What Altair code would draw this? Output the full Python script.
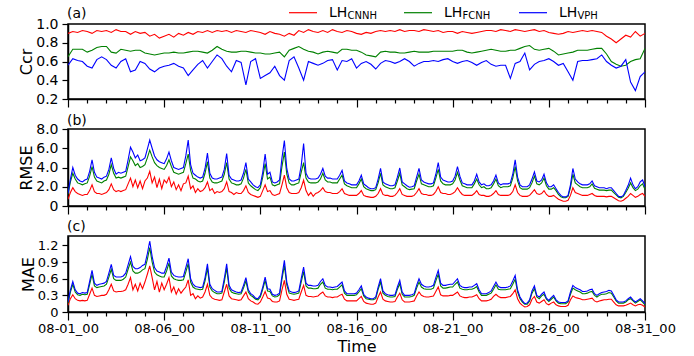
import altair as alt
import pandas as pd

FONT = "DejaVu Sans"
SERIES = ["CNNH", "FCNH", "VPH"]
COLORS = ["#ff0000", "#008000", "#0000ff"]
DAY_TICKS = list(range(31))

# ---- (a) Ccr, 6-hourly samples (4 per day), 08-01_00 .. 08-31_00
ccr_cnnh = [
    0.90, 0.92, 0.91, 0.93, 0.92, 0.90, 0.93, 0.92, 0.93, 0.91, 0.94, 0.92,
    0.92, 0.89, 0.92, 0.90, 0.91, 0.87, 0.89, 0.85, 0.87, 0.89, 0.86, 0.90,
    0.88, 0.91, 0.89, 0.92, 0.91, 0.93, 0.91, 0.93, 0.92, 0.93, 0.91, 0.93,
    0.92, 0.91, 0.93, 0.92, 0.91, 0.89, 0.92, 0.90, 0.89, 0.87, 0.90, 0.88,
    0.93, 0.91, 0.94, 0.92, 0.91, 0.93, 0.91, 0.94, 0.92, 0.91, 0.93, 0.92,
    0.90, 0.89, 0.91, 0.90, 0.92, 0.93, 0.92, 0.93, 0.92, 0.94, 0.92, 0.93,
    0.93, 0.92, 0.94, 0.93, 0.92, 0.93, 0.91, 0.92, 0.92, 0.90, 0.92, 0.91,
    0.90, 0.91, 0.92, 0.93, 0.93, 0.92, 0.94, 0.93, 0.92, 0.94, 0.93, 0.92,
    0.93, 0.94, 0.92, 0.93, 0.91, 0.90, 0.89, 0.90, 0.92, 0.91, 0.92, 0.93,
    0.92, 0.93, 0.92, 0.91, 0.87, 0.84, 0.80, 0.84, 0.88, 0.86, 0.92, 0.87,
    0.90,
]
ccr_fcnh = [
    0.65, 0.73, 0.73, 0.73, 0.70, 0.72, 0.75, 0.76, 0.76, 0.70, 0.69, 0.73,
    0.72, 0.71, 0.72, 0.72, 0.69, 0.68, 0.67, 0.68, 0.69, 0.69, 0.70, 0.69,
    0.69, 0.70, 0.71, 0.71, 0.70, 0.69, 0.72, 0.76, 0.73, 0.71, 0.70, 0.70,
    0.71, 0.71, 0.70, 0.69, 0.69, 0.68, 0.68, 0.69, 0.70, 0.65, 0.72, 0.74,
    0.76, 0.73, 0.71, 0.70, 0.68, 0.70, 0.71, 0.70, 0.69, 0.73, 0.73, 0.72,
    0.72, 0.70, 0.67, 0.66, 0.65, 0.70, 0.71, 0.70, 0.70, 0.69, 0.69, 0.70,
    0.71, 0.70, 0.70, 0.70, 0.71, 0.71, 0.71, 0.71, 0.71, 0.72, 0.72, 0.70,
    0.69, 0.70, 0.71, 0.72, 0.73, 0.72, 0.71, 0.71, 0.72, 0.72, 0.74, 0.76,
    0.77, 0.73, 0.72, 0.73, 0.74, 0.71, 0.67, 0.68, 0.69, 0.70, 0.72, 0.72,
    0.72, 0.73, 0.74, 0.74, 0.68, 0.60, 0.57, 0.55, 0.56, 0.60, 0.62, 0.63,
    0.74,
]
ccr_vph = [
    0.56, 0.63, 0.61, 0.60, 0.55, 0.53, 0.62, 0.65, 0.62, 0.56, 0.53, 0.60,
    0.63, 0.49, 0.51, 0.60, 0.58, 0.52, 0.49, 0.53, 0.55, 0.56, 0.58, 0.55,
    0.53, 0.45, 0.51, 0.57, 0.61, 0.53, 0.60, 0.67, 0.63, 0.55, 0.49, 0.61,
    0.59, 0.35, 0.60, 0.63, 0.42, 0.45, 0.48, 0.55, 0.45, 0.40, 0.61, 0.65,
    0.53, 0.40, 0.60, 0.58, 0.56, 0.58, 0.61, 0.62, 0.51, 0.61, 0.60, 0.63,
    0.53, 0.58, 0.60, 0.57, 0.52, 0.58, 0.61, 0.60, 0.58, 0.60, 0.63, 0.60,
    0.55, 0.58, 0.60, 0.60, 0.61, 0.60, 0.62, 0.63, 0.60, 0.58, 0.60, 0.61,
    0.59, 0.56, 0.59, 0.61, 0.57, 0.55, 0.56, 0.56, 0.42, 0.58, 0.60, 0.69,
    0.51, 0.57, 0.60, 0.61, 0.63, 0.60, 0.56, 0.58, 0.49, 0.40, 0.60, 0.61,
    0.61, 0.62, 0.63, 0.67, 0.60, 0.56, 0.53, 0.55, 0.62, 0.38, 0.29, 0.44,
    0.49,
]

# ---- (b) RMSE, 3-hourly samples (8 per day)
rmse_cnnh = [
    0.7, 1.4, 1.9, 1.5, 1.3, 1.2, 1.1, 1.2,
    1.2, 1.6, 2.2, 1.5, 1.3, 1.3, 1.2, 1.3,
    1.4, 1.7, 2.3, 1.7, 1.5, 1.6, 1.5, 1.6,
    1.7, 2.3, 2.9, 2.0, 2.7, 1.9, 2.6, 1.8,
    2.6, 2.9, 3.6, 2.4, 3.0, 1.9, 2.8, 1.8,
    2.7, 2.4, 3.0, 2.0, 2.5, 1.7, 2.2, 1.6,
    2.3, 2.4, 3.1, 1.8, 2.1, 1.4, 1.8, 1.5,
    1.6, 1.9, 2.5, 1.6, 1.8, 1.3, 1.5, 1.4,
    1.5, 1.8, 2.5, 1.5, 1.4, 1.2, 1.4, 1.3,
    1.3, 1.6, 2.1, 1.4, 1.2, 1.1, 1.0, 0.9,
    1.0, 1.6, 2.2, 1.5, 1.6, 1.2, 1.1, 1.2,
    1.3, 2.2, 3.2, 1.9, 1.4, 1.3, 1.3, 1.3,
    1.4, 1.9, 2.7, 1.6, 1.1, 1.4, 1.0, 1.3,
    1.4, 1.6, 1.9, 1.5, 1.4, 1.4, 1.3, 1.3,
    1.3, 1.5, 1.8, 1.3, 1.2, 1.1, 1.1, 1.1,
    1.1, 1.3, 1.6, 1.1, 1.0, 0.95, 0.9, 0.9,
    1.0, 1.3, 1.8, 1.2, 1.1, 1.1, 1.0, 1.0,
    1.1, 1.4, 1.8, 1.2, 1.1, 1.0, 1.0, 1.0,
    1.1, 1.4, 1.8, 1.3, 1.2, 1.2, 1.1, 1.1,
    1.2, 1.5, 2.0, 1.4, 1.3, 1.3, 1.2, 1.2,
    1.3, 1.5, 1.9, 1.5, 1.2, 1.1, 1.1, 1.1,
    1.1, 1.3, 1.6, 1.2, 1.1, 1.1, 1.0, 1.0,
    1.1, 1.3, 1.6, 1.2, 1.1, 1.1, 1.1, 1.1,
    1.2, 1.5, 2.2, 1.4, 1.1, 1.0, 1.0, 1.0,
    1.1, 1.4, 1.7, 1.3, 1.2, 1.3, 1.6, 1.2,
    1.0, 1.0, 1.1, 0.9, 0.7, 0.6, 0.5, 0.5,
    0.6, 1.1, 1.9, 1.4, 1.3, 1.2, 1.1, 1.1,
    1.1, 1.2, 1.3, 1.1, 1.0, 1.0, 1.0, 1.0,
    0.95, 1.0, 1.0, 0.85, 0.7, 0.55, 0.5, 0.6,
    0.8, 1.0, 1.3, 1.1, 0.9, 1.0, 1.2, 1.3,
    1.0,
]
rmse_fcnh = [
    1.2, 2.5, 3.4, 2.8, 2.4, 2.3, 2.2, 2.3,
    2.4, 3.1, 4.1, 3.0, 2.6, 2.5, 2.4, 2.6,
    2.7, 3.3, 4.3, 3.4, 2.9, 3.0, 2.9, 3.0,
    3.1, 4.1, 5.1, 4.7, 4.2, 4.4, 4.0, 4.1,
    4.3, 5.0, 5.8, 5.1, 4.5, 4.2, 4.0, 3.9,
    3.8, 4.2, 4.8, 4.1, 3.5, 3.4, 3.3, 3.4,
    3.5, 4.4, 5.4, 3.7, 2.9, 2.8, 2.6, 2.5,
    2.6, 3.4, 4.6, 2.9, 2.5, 2.4, 2.4, 2.5,
    2.6, 3.3, 4.5, 2.8, 2.4, 2.3, 2.2, 2.2,
    2.3, 2.9, 3.8, 2.4, 2.1, 1.9, 1.7, 1.6,
    1.9, 3.0, 4.4, 2.8, 3.0, 2.2, 2.1, 2.2,
    2.3, 4.1, 5.6, 3.3, 2.4, 2.2, 2.2, 2.3,
    2.4, 3.5, 4.5, 2.9, 2.5, 2.4, 2.4, 2.4,
    2.5, 2.8, 3.4, 2.7, 2.5, 2.5, 2.4, 2.4,
    2.4, 2.8, 3.2, 2.3, 2.1, 2.0, 1.9, 1.9,
    1.9, 2.3, 2.8, 2.0, 1.8, 1.7, 1.6, 1.6,
    1.7, 2.4, 3.4, 2.2, 2.0, 1.9, 1.8, 1.8,
    1.9, 2.6, 3.4, 2.2, 2.0, 1.8, 1.7, 1.75,
    1.8, 2.6, 3.3, 2.3, 2.2, 2.1, 2.0, 2.0,
    2.1, 2.9, 3.8, 2.6, 2.3, 2.2, 2.2, 2.2,
    2.3, 2.7, 3.5, 2.7, 2.1, 2.0, 1.9, 1.9,
    1.9, 2.3, 2.8, 2.2, 1.9, 2.0, 1.8, 1.8,
    1.9, 2.3, 2.8, 2.1, 1.9, 2.0, 2.0, 2.0,
    2.1, 2.9, 4.1, 2.6, 1.9, 1.75, 1.75, 1.75,
    1.9, 2.4, 3.1, 2.3, 2.2, 2.4, 2.9, 2.1,
    1.75, 1.75, 1.9, 1.6, 1.2, 0.95, 0.85, 0.85,
    1.0, 1.9, 3.3, 2.4, 2.2, 2.0, 1.9, 1.9,
    1.9, 2.0, 2.3, 1.85, 1.75, 1.65, 1.65, 1.65,
    1.6, 1.65, 1.65, 1.4, 1.15, 0.9, 0.85, 1.0,
    1.4, 1.85, 2.4, 1.9, 1.6, 1.75, 2.1, 2.3,
    1.7,
]
rmse_vph = [
    1.3, 2.8, 4.0, 3.2, 2.8, 2.6, 2.5, 2.7,
    2.8, 3.6, 4.8, 3.5, 3.0, 2.9, 2.8, 3.0,
    3.1, 3.8, 5.0, 3.9, 3.3, 3.5, 3.4, 3.5,
    3.6, 4.8, 6.1, 5.6, 5.0, 5.3, 4.7, 4.8,
    5.0, 5.9, 6.85, 6.0, 5.2, 4.8, 4.6, 4.5,
    4.4, 4.9, 5.6, 4.7, 4.0, 3.9, 3.8, 3.9,
    4.0, 5.2, 6.85, 4.3, 3.4, 3.2, 3.0, 2.9,
    3.0, 3.9, 5.5, 3.4, 2.9, 2.8, 2.8, 2.9,
    3.0, 3.8, 5.45, 3.2, 2.8, 2.7, 2.6, 2.6,
    2.7, 3.4, 4.5, 2.8, 2.5, 2.2, 2.0, 1.9,
    2.2, 3.5, 5.4, 3.3, 3.5, 2.5, 2.4, 2.5,
    2.7, 5.0, 6.8, 3.9, 2.8, 2.6, 2.6, 2.7,
    2.8, 4.2, 6.5, 3.4, 2.9, 2.8, 2.8, 2.8,
    2.9, 3.3, 3.9, 3.1, 2.9, 2.9, 2.8, 2.8,
    2.8, 3.2, 3.7, 2.6, 2.4, 2.3, 2.2, 2.2,
    2.2, 2.6, 3.2, 2.3, 2.1, 1.9, 1.8, 1.8,
    1.9, 2.8, 3.9, 2.5, 2.3, 2.2, 2.1, 2.1,
    2.2, 3.0, 3.95, 2.5, 2.3, 2.1, 1.95, 2.0,
    2.1, 3.0, 3.9, 2.7, 2.5, 2.4, 2.3, 2.3,
    2.4, 3.3, 4.5, 3.0, 2.7, 2.6, 2.5, 2.5,
    2.6, 3.1, 4.1, 3.1, 2.4, 2.3, 2.2, 2.2,
    2.2, 2.6, 3.3, 2.5, 2.2, 2.3, 2.1, 2.1,
    2.2, 2.6, 3.2, 2.4, 2.2, 2.3, 2.3, 2.3,
    2.4, 3.3, 4.8, 3.0, 2.2, 2.0, 2.0, 2.0,
    2.2, 2.8, 3.55, 2.6, 2.5, 2.7, 3.3, 2.4,
    2.0, 2.0, 2.2, 1.8, 1.4, 1.1, 0.95, 0.95,
    1.1, 2.2, 3.9, 2.8, 2.5, 2.3, 2.2, 2.2,
    2.2, 2.3, 2.6, 2.1, 2.0, 1.9, 1.9, 1.9,
    1.8, 1.9, 1.9, 1.6, 1.3, 1.0, 0.95, 1.1,
    1.6, 2.15, 2.9, 2.2, 1.8, 2.0, 2.5, 2.7,
    2.0,
]

# ---- (c) MAE, 3-hourly samples (8 per day)
mae_cnnh = [
    0.12, 0.24, 0.31, 0.24, 0.21, 0.20, 0.21, 0.20,
    0.21, 0.32, 0.43, 0.30, 0.28, 0.29, 0.30, 0.30,
    0.32, 0.40, 0.50, 0.38, 0.36, 0.37, 0.37, 0.38,
    0.40, 0.50, 0.62, 0.40, 0.50, 0.38, 0.52, 0.42,
    0.54, 0.68, 0.83, 0.62, 0.40, 0.55, 0.36, 0.52,
    0.40, 0.50, 0.62, 0.36, 0.45, 0.32, 0.42, 0.34,
    0.40, 0.45, 0.58, 0.30, 0.33, 0.24, 0.29, 0.25,
    0.27, 0.36, 0.50, 0.30, 0.25, 0.23, 0.22, 0.21,
    0.22, 0.36, 0.50, 0.29, 0.24, 0.23, 0.22, 0.21,
    0.22, 0.29, 0.36, 0.24, 0.20, 0.18, 0.15, 0.14,
    0.18, 0.27, 0.37, 0.25, 0.24, 0.19, 0.18, 0.18,
    0.20, 0.40, 0.57, 0.32, 0.23, 0.22, 0.21, 0.22,
    0.23, 0.36, 0.48, 0.30, 0.28, 0.28, 0.27, 0.28,
    0.29, 0.33, 0.36, 0.29, 0.27, 0.27, 0.26, 0.27,
    0.27, 0.30, 0.32, 0.23, 0.20, 0.20, 0.20, 0.20,
    0.20, 0.24, 0.28, 0.19, 0.16, 0.15, 0.14, 0.14,
    0.16, 0.27, 0.36, 0.23, 0.20, 0.19, 0.18, 0.18,
    0.19, 0.27, 0.34, 0.22, 0.18, 0.18, 0.18, 0.19,
    0.20, 0.29, 0.36, 0.30, 0.28, 0.27, 0.27, 0.28,
    0.29, 0.37, 0.45, 0.31, 0.29, 0.29, 0.29, 0.30,
    0.30, 0.33, 0.36, 0.29, 0.27, 0.26, 0.26, 0.27,
    0.27, 0.29, 0.31, 0.24, 0.20, 0.20, 0.20, 0.21,
    0.23, 0.28, 0.32, 0.28, 0.26, 0.26, 0.26, 0.27,
    0.28, 0.33, 0.40, 0.24, 0.16, 0.12, 0.09, 0.10,
    0.13, 0.23, 0.28, 0.18, 0.16, 0.19, 0.22, 0.15,
    0.13, 0.16, 0.18, 0.13, 0.11, 0.10, 0.10, 0.10,
    0.12, 0.22, 0.29, 0.26, 0.25, 0.24, 0.22, 0.22,
    0.23, 0.24, 0.25, 0.20, 0.18, 0.20, 0.21, 0.22,
    0.22, 0.23, 0.23, 0.18, 0.13, 0.11, 0.11, 0.11,
    0.12, 0.14, 0.16, 0.13, 0.11, 0.13, 0.14, 0.12,
    0.09,
]
mae_fcnh = [
    0.16, 0.36, 0.50, 0.36, 0.31, 0.30, 0.32, 0.31,
    0.32, 0.50, 0.68, 0.47, 0.44, 0.45, 0.46, 0.47,
    0.50, 0.63, 0.77, 0.60, 0.57, 0.57, 0.57, 0.59,
    0.63, 0.77, 0.90, 0.74, 0.70, 0.70, 0.72, 0.76,
    0.78, 0.95, 1.16, 0.90, 0.72, 0.67, 0.65, 0.63,
    0.63, 0.74, 0.88, 0.65, 0.60, 0.58, 0.57, 0.57,
    0.58, 0.72, 0.87, 0.54, 0.45, 0.42, 0.41, 0.40,
    0.41, 0.56, 0.79, 0.45, 0.38, 0.35, 0.33, 0.33,
    0.34, 0.54, 0.79, 0.43, 0.36, 0.34, 0.33, 0.32,
    0.33, 0.43, 0.56, 0.36, 0.30, 0.27, 0.23, 0.22,
    0.27, 0.41, 0.57, 0.38, 0.37, 0.29, 0.27, 0.28,
    0.31, 0.59, 0.84, 0.49, 0.34, 0.33, 0.32, 0.33,
    0.34, 0.54, 0.73, 0.47, 0.43, 0.43, 0.42, 0.42,
    0.43, 0.50, 0.54, 0.43, 0.41, 0.41, 0.40, 0.41,
    0.41, 0.45, 0.49, 0.34, 0.30, 0.30, 0.30, 0.30,
    0.31, 0.36, 0.42, 0.29, 0.24, 0.23, 0.22, 0.22,
    0.24, 0.41, 0.54, 0.34, 0.30, 0.28, 0.27, 0.27,
    0.28, 0.41, 0.51, 0.32, 0.27, 0.27, 0.27, 0.28,
    0.30, 0.43, 0.54, 0.45, 0.42, 0.41, 0.41, 0.41,
    0.43, 0.56, 0.68, 0.47, 0.43, 0.43, 0.44, 0.45,
    0.45, 0.50, 0.54, 0.43, 0.41, 0.40, 0.40, 0.41,
    0.41, 0.43, 0.46, 0.36, 0.30, 0.30, 0.30, 0.32,
    0.34, 0.41, 0.49, 0.41, 0.40, 0.40, 0.40, 0.41,
    0.42, 0.50, 0.59, 0.36, 0.24, 0.18, 0.14, 0.14,
    0.20, 0.34, 0.42, 0.27, 0.24, 0.29, 0.32, 0.23,
    0.19, 0.23, 0.27, 0.20, 0.16, 0.15, 0.15, 0.15,
    0.18, 0.32, 0.43, 0.40, 0.38, 0.36, 0.33, 0.33,
    0.34, 0.36, 0.37, 0.30, 0.27, 0.30, 0.32, 0.32,
    0.33, 0.35, 0.34, 0.27, 0.20, 0.16, 0.16, 0.16,
    0.18, 0.22, 0.24, 0.20, 0.16, 0.19, 0.22, 0.18,
    0.13,
]
mae_vph = [
    0.18, 0.40, 0.55, 0.40, 0.34, 0.33, 0.35, 0.34,
    0.35, 0.55, 0.75, 0.52, 0.48, 0.50, 0.51, 0.52,
    0.55, 0.70, 0.86, 0.66, 0.63, 0.63, 0.63, 0.65,
    0.70, 0.85, 1.00, 0.82, 0.78, 0.78, 0.80, 0.84,
    0.86, 1.05, 1.28, 1.00, 0.80, 0.74, 0.72, 0.70,
    0.70, 0.82, 0.97, 0.72, 0.66, 0.64, 0.63, 0.63,
    0.64, 0.80, 0.96, 0.60, 0.50, 0.46, 0.45, 0.44,
    0.45, 0.62, 0.87, 0.50, 0.42, 0.39, 0.36, 0.36,
    0.37, 0.60, 0.87, 0.48, 0.40, 0.38, 0.36, 0.35,
    0.36, 0.48, 0.62, 0.40, 0.33, 0.30, 0.25, 0.24,
    0.30, 0.45, 0.63, 0.42, 0.41, 0.32, 0.30, 0.31,
    0.34, 0.65, 0.93, 0.54, 0.38, 0.36, 0.35, 0.36,
    0.38, 0.60, 0.81, 0.52, 0.48, 0.48, 0.47, 0.47,
    0.48, 0.55, 0.60, 0.48, 0.45, 0.45, 0.44, 0.45,
    0.46, 0.50, 0.54, 0.38, 0.33, 0.33, 0.33, 0.33,
    0.34, 0.40, 0.47, 0.32, 0.27, 0.25, 0.24, 0.24,
    0.27, 0.45, 0.60, 0.38, 0.33, 0.31, 0.30, 0.30,
    0.31, 0.45, 0.57, 0.36, 0.30, 0.30, 0.30, 0.31,
    0.33, 0.48, 0.60, 0.50, 0.47, 0.45, 0.45, 0.46,
    0.48, 0.62, 0.75, 0.52, 0.48, 0.48, 0.49, 0.50,
    0.50, 0.55, 0.60, 0.48, 0.45, 0.44, 0.44, 0.45,
    0.45, 0.48, 0.51, 0.40, 0.33, 0.33, 0.33, 0.35,
    0.38, 0.46, 0.54, 0.46, 0.44, 0.44, 0.44, 0.45,
    0.47, 0.56, 0.66, 0.40, 0.27, 0.20, 0.15, 0.16,
    0.22, 0.38, 0.47, 0.30, 0.27, 0.32, 0.36, 0.25,
    0.21, 0.26, 0.30, 0.22, 0.18, 0.17, 0.17, 0.17,
    0.20, 0.36, 0.48, 0.44, 0.42, 0.40, 0.37, 0.37,
    0.38, 0.40, 0.41, 0.33, 0.30, 0.33, 0.35, 0.36,
    0.37, 0.39, 0.38, 0.30, 0.22, 0.18, 0.18, 0.18,
    0.20, 0.24, 0.27, 0.22, 0.18, 0.21, 0.24, 0.20,
    0.15,
]


def long_table(per_day, series_values):
    rows = []
    for name, vals in zip(SERIES, series_values):
        for i, v in enumerate(vals):
            rows.append({"day": i / per_day, "value": v, "series": name})
    return pd.DataFrame(rows)


df_a = long_table(4, [ccr_cnnh, ccr_fcnh, ccr_vph])
df_b = long_table(8, [rmse_cnnh, rmse_fcnh, rmse_vph])
df_c = long_table(8, [mae_cnnh, mae_fcnh, mae_vph])

ONE = pd.DataFrame({"k": [0]})
TICK_SIZE = {"condition": {"test": "datum.value % 5 == 0", "value": 8}, "value": 4}
X_LABEL = ("datum.value % 5 == 0 ? '08-' + (datum.value + 1 < 10 ? '0' : '') + "
           "(datum.value + 1) + '_00' : ''")
Y_LABEL = "datum.value == 0 ? '0' : format(datum.value, '.1f')"


def panel(df, label, label_y, ytitle, ydomain, yvalues, ylab_size, height,
          bottom=False, legend=False):
    if bottom:
        xaxis = alt.Axis(values=DAY_TICKS, tickSize=TICK_SIZE, labelExpr=X_LABEL,
                         labelFontSize=13, labelPadding=2, labelFlush=False,
                         labelOverlap=False, title="Time", titleFontSize=16,
                         titleFontWeight="normal", titlePadding=3.5, grid=False)
    else:
        xaxis = alt.Axis(values=DAY_TICKS, tickSize=TICK_SIZE, labels=False,
                         title=None, grid=False)
    yaxis = alt.Axis(values=yvalues, labelExpr=Y_LABEL, tickSize=6, labelPadding=4,
                     labelFontSize=ylab_size, title=ytitle, titleFontSize=16,
                     titleFontWeight="normal", titlePadding=1, grid=False)
    lines = alt.Chart(df).mark_line(strokeWidth=1.1, clip=True).encode(
        x=alt.X("day:Q", scale=alt.Scale(domain=[0, 30], nice=False, zero=False), axis=xaxis),
        y=alt.Y("value:Q", scale=alt.Scale(domain=ydomain, nice=False, zero=False), axis=yaxis),
        color=alt.Color("series:N", scale=alt.Scale(domain=SERIES, range=COLORS), legend=None),
    )
    layers = [lines]
    layers.append(
        alt.Chart(ONE).mark_text(text=label, align="left", baseline="alphabetic",
                                 fontSize=14, font=FONT, color="black")
        .encode(x=alt.value(-1), y=alt.value(label_y))
    )
    if legend:
        for i, (name, color) in enumerate(zip(SERIES, COLORS)):
            x0 = 221 + 115 * i
            layers.append(
                alt.Chart(ONE).mark_rule(color=color, strokeWidth=1.2)
                .encode(x=alt.value(x0), x2=alt.value(x0 + 28), y=alt.value(-11.3))
            )
            layers.append(
                alt.Chart(ONE).mark_text(text="LH", align="left", baseline="alphabetic",
                                         fontSize=14, font=FONT, color="black")
                .encode(x=alt.value(x0 + 40), y=alt.value(-7.3))
            )
            layers.append(
                alt.Chart(ONE).mark_text(text=name, align="left", baseline="alphabetic",
                                         fontSize=10, font=FONT, color="black")
                .encode(x=alt.value(x0 + 58.5), y=alt.value(-5.5))
            )
    return alt.layer(*layers).properties(width=577, height=height)


pa = panel(df_a, "(a)", -6.5, "Ccr", [0.2, 1.0], [0.2, 0.4, 0.6, 0.8, 1.0], 14, 75,
           legend=True)
pb = panel(df_b, "(b)", -4, "RMSE", [0, 8], [0, 2, 4, 6, 8], 14, 77)
pc = panel(df_c, "(c)", -5, "MAE", [0, 1.37], [0, 0.3, 0.6, 0.9, 1.2], 13, 76, bottom=True)

chart = (
    alt.vconcat(alt.vconcat(pa, pb, spacing=4), pc, spacing=3)
    .properties(padding={"left": 17, "top": 4, "right": 17, "bottom": 0})
    .configure_view(stroke="black", strokeWidth=1.5)
    .configure_axis(labelFont=FONT, titleFont=FONT, labelColor="black",
                    titleColor="black", domainColor="black", tickColor="black",
                    domainWidth=1.5, tickWidth=1.2)
)

chart.save("out.html", embed_options={"renderer": "svg", "actions": False})
